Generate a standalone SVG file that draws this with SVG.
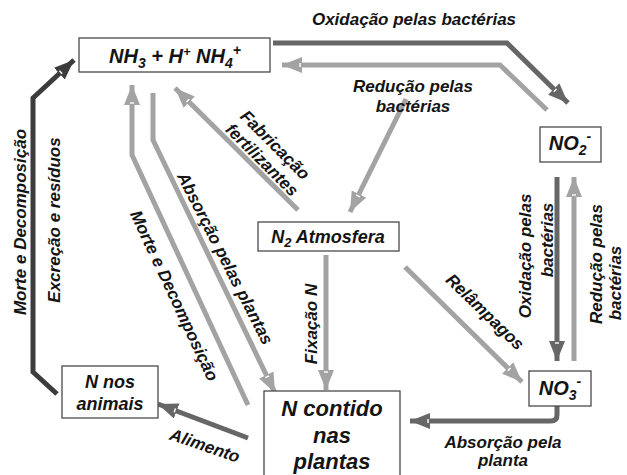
<svg xmlns="http://www.w3.org/2000/svg" width="627" height="475" viewBox="0 0 627 475">
<defs>
<style>
.box{fill:#fff;stroke:#4a4a4a;stroke-width:1.3}
.t{font-family:"Liberation Sans",Arial,sans-serif;font-weight:bold;font-style:italic;fill:#141414}
.n{font-size:20px}
.l{font-size:17px}
.c{fill:none;stroke-width:5;stroke-linejoin:miter}
.dk{stroke:#3c3c3c}
.md{stroke:#666}
.lt{stroke:#a3a3a3}
</style>
<marker id="aDk" markerUnits="userSpaceOnUse" markerWidth="24" markerHeight="18" refX="20" refY="8" orient="auto">
<path d="M0,0 L20,8 L0,16 z" fill="#3c3c3c"/><path d="M2,6 V10" stroke="#fff" stroke-width="1.4"/>
</marker>
<marker id="aMd" markerUnits="userSpaceOnUse" markerWidth="24" markerHeight="18" refX="20" refY="8" orient="auto">
<path d="M0,0 L20,8 L0,16 z" fill="#666"/><path d="M2,6 V10" stroke="#fff" stroke-width="1.4"/>
</marker>
<marker id="aLt" markerUnits="userSpaceOnUse" markerWidth="24" markerHeight="18" refX="20" refY="8" orient="auto">
<path d="M0,0 L20,8 L0,16 z" fill="#a3a3a3"/><path d="M2,6 V10" stroke="#fff" stroke-width="1.4"/>
</marker>
</defs>

<g id="connectors">
<path class="c dk" d="M57,394 L33,372 L33,98 L74,60" marker-end="url(#aDk)"/>
<path class="c md" d="M273,43 L507,43 L568,103" marker-end="url(#aMd)"/>
<path class="c lt" d="M547,110 L500,65 L282,65" marker-end="url(#aLt)"/>
<path class="c lt" d="M406,99 L350,212" marker-end="url(#aLt)"/>
<path class="c lt" d="M298,210 L175,88" marker-end="url(#aLt)"/>
<path class="c lt" d="M153,93 L153,140 L275,393" marker-end="url(#aLt)"/>
<path class="c lt" d="M248,405 L132,155 L132,85" marker-end="url(#aLt)"/>
<path class="c lt" d="M326,255 L326,390" marker-end="url(#aLt)"/>
<path class="c lt" d="M405,267 L522,382" marker-end="url(#aLt)"/>
<path class="c md" d="M557,177 L557,361" marker-end="url(#aMd)"/>
<path class="c lt" d="M574,361 L574,177" marker-end="url(#aLt)"/>
<path class="c md" d="M557,406 L557,415 Q557,421 551,421 L410,421" marker-end="url(#aMd)"/>
<path class="c md" d="M248,438 L158,404" marker-end="url(#aMd)"/>
</g>

<g id="nh4">
<rect class="box" x="79" y="38" width="191" height="34"/>
<text class="t n" x="175" y="63" text-anchor="middle">NH<tspan dy="5" font-size="14">3</tspan><tspan dy="-5"> + H</tspan><tspan dy="-7" font-size="13">+</tspan><tspan dy="7"> NH</tspan><tspan dy="5" font-size="14">4</tspan><tspan dy="-13" font-size="14">+</tspan></text>
</g>

<g id="no2">
<rect class="box" x="540" y="127" width="61" height="35"/>
<text class="t n" x="570" y="150" text-anchor="middle">NO<tspan dy="5" font-size="14">2</tspan><tspan dy="-14" font-size="14">-</tspan></text>
</g>

<g id="n2">
<rect class="box" x="258" y="222" width="141" height="29"/>
<text class="t" font-size="18" x="328" y="243" text-anchor="middle">N<tspan dy="4" font-size="13">2</tspan><tspan dy="-4"> Atmosfera</tspan></text>
</g>

<g id="no3">
<rect class="box" x="529" y="371" width="62" height="35"/>
<text class="t n" x="560" y="395" text-anchor="middle">NO<tspan dy="5" font-size="14">3</tspan><tspan dy="-14" font-size="14">-</tspan></text>
</g>

<g id="plantas">
<rect class="box" x="264" y="391" width="136" height="95"/>
<text class="t" font-size="22" text-anchor="middle"><tspan x="332" y="416">N contido</tspan><tspan x="332" y="443">nas</tspan><tspan x="332" y="469">plantas</tspan></text>
</g>

<g id="animais">
<rect class="box" x="62" y="366" width="96" height="52"/>
<text class="t" font-size="18" text-anchor="middle"><tspan x="110" y="388">N nos</tspan><tspan x="110" y="410">animais</tspan></text>
</g>

<g id="labels" class="t l" text-anchor="middle">
<text x="414" y="25">Oxidação pelas bactérias</text>
<text x="413" y="92">Redução pelas</text>
<text x="413" y="112">bactérias</text>
<text transform="translate(271,149) rotate(45)">Fabricação</text>
<text transform="translate(258,164) rotate(45)">fertilizantes</text>
<text transform="translate(220,261) rotate(63)">Absorção pelas plantas</text>
<text transform="translate(169,298) rotate(65)">Morte e Decomposição</text>
<text transform="translate(26,222) rotate(-90)">Morte e Decomposição</text>
<text transform="translate(60,220) rotate(-90)">Excreção e resíduos</text>
<text transform="translate(317,324) rotate(-90)">Fixação N</text>
<text transform="translate(481,316) rotate(44)">Relâmpagos</text>
<text transform="translate(531,256) rotate(-90)">Oxidação pelas</text>
<text transform="translate(553,240) rotate(-90)">bactérias</text>
<text transform="translate(602,264) rotate(-90)">Redução pelas</text>
<text transform="translate(621,283) rotate(-90)">bactérias</text>
<text transform="translate(203,451) rotate(19)">Alimento</text>
<text x="503" y="448">Absorção pela</text>
<text x="503" y="466">planta</text>
</g>
</svg>
